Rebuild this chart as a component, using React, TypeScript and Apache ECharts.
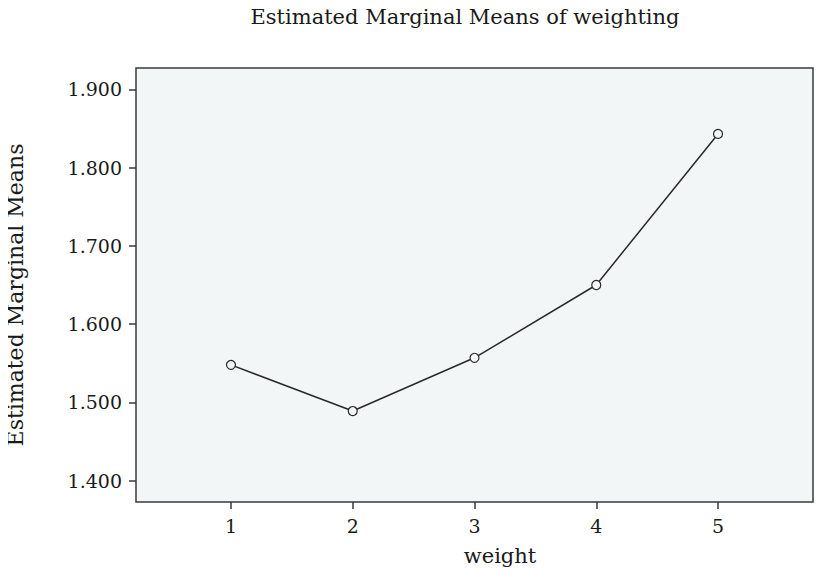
import React, { useEffect, useRef } from "react";
import * as echarts from "echarts";

const weights = [1, 2, 3, 4, 5];
const means = [1.548, 1.489, 1.557, 1.65, 1.843];
const yTicks = [1.4, 1.5, 1.6, 1.7, 1.8, 1.9];
const xTicks = [1, 2, 3, 4, 5];

const FONT = "DejaVu Serif";

export default function App() {
  const ref = useRef<HTMLDivElement>(null);
  useEffect(() => {
    if (!ref.current) return;
    const chart = echarts.init(ref.current, null, { renderer: "svg" });
    chart.setOption({
      animation: false,
      backgroundColor: "#ffffff",
      title: {
        text: "Estimated Marginal Means of weighting",
        left: 460,
        textAlign: "center",
        top: 1,
        textStyle: { fontFamily: FONT, fontSize: 21, fontWeight: "normal", color: "#1a1a1a" },
      },
      graphic: [
        {
          type: "text",
          x: 500,
          y: 566,
          style: {
            text: "weight",
            fontFamily: FONT,
            fontSize: 21,
            fill: "#1a1a1a",
            textAlign: "center",
            textVerticalAlign: "bottom",
          },
        },
        {
          type: "text",
          x: 15,
          y: 295,
          rotation: Math.PI / 2,
          style: {
            text: "Estimated Marginal Means",
            fontFamily: FONT,
            fontSize: 22,
            fill: "#1a1a1a",
            textAlign: "center",
            textVerticalAlign: "middle",
          },
        },
      ],
      grid: {
        left: 136,
        right: 16,
        top: 68,
        bottom: 82,
        show: true,
        outerBoundsMode: "none",
        containLabel: false,
        backgroundColor: "#f2f6f7",
        borderColor: "#3a3a3a",
        borderWidth: 1.5,
      },
      xAxis: {
        type: "value",
        min: 0.22,
        max: 5.78,
        axisLine: { show: false },
        splitLine: { show: false },
        axisTick: { show: true, length: 7, customValues: xTicks, lineStyle: { color: "#3a3a3a", width: 1.5 } },
        axisLabel: {
          customValues: xTicks,
          fontFamily: FONT,
          fontSize: 19,
          color: "#1a1a1a",
          margin: 14,
          formatter: (v: number) => String(Math.round(v)),
        },
      },
      yAxis: {
        type: "value",
        min: 1.3728,
        max: 1.9272,
        axisLine: { show: false },
        splitLine: { show: false },
        axisTick: { show: true, length: 7, customValues: yTicks, lineStyle: { color: "#3a3a3a", width: 1.5 } },
        axisLabel: {
          customValues: yTicks,
          fontFamily: FONT,
          fontSize: 19,
          color: "#1a1a1a",
          margin: 14,
          formatter: (v: number) => v.toFixed(3),
        },
      },
      series: [
        {
          type: "line",
          data: weights.map((w, i) => [w, means[i]]),
          symbol: "circle",
          symbolSize: 9,
          lineStyle: { color: "#2a2a2a", width: 1.5 },
          itemStyle: { color: "#f2f6f7", borderColor: "#2a2a2a", borderWidth: 1.2 },
        },
      ],
    });
    return () => chart.dispose();
  }, []);
  return <div ref={ref} style={{ width: 829, height: 584, margin: -8 }} />;
}
